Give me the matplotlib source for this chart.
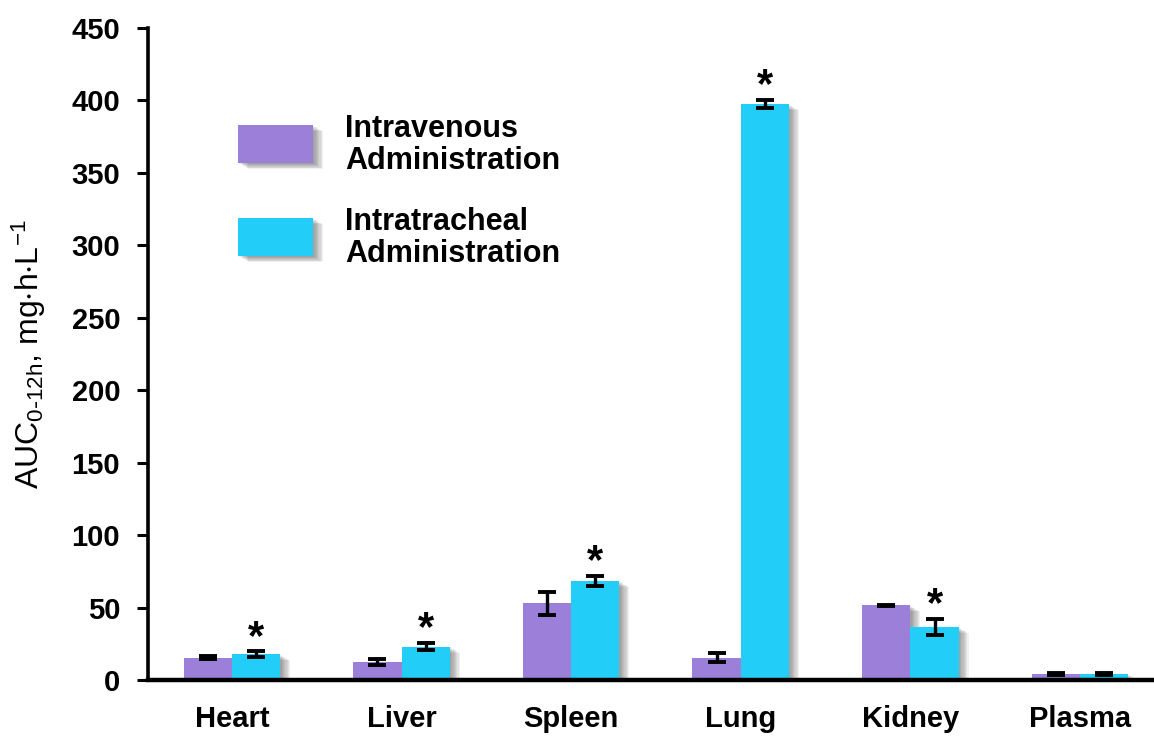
import matplotlib
matplotlib.use("Agg")
import matplotlib.pyplot as plt
import matplotlib.patheffects as pe
from matplotlib.patches import Rectangle
import numpy as np

plt.rcParams['font.family'] = ['Liberation Sans', 'DejaVu Sans']
plt.rcParams['mathtext.fontset'] = 'custom'
plt.rcParams['mathtext.rm'] = 'Liberation Sans Narrow'
plt.rcParams['mathtext.it'] = 'Liberation Sans Narrow'
plt.rcParams['mathtext.default'] = 'regular'

categories = ["Heart", "Liver", "Spleen", "Lung", "Kidney", "Plasma"]
series_names = ["Intravenous\nAdministration", "Intratracheal\nAdministration"]
iv_values = [15.4, 12.6, 53, 15.4, 51.5, 4]
iv_errors = [1.0, 2.0, 8.0, 3.0, 0.6, 0.5]
it_values = [17.7, 23, 68.5, 397.5, 36.7, 4]
it_errors = [2.0, 2.5, 3.5, 3.0, 5.5, 0.5]
significant = [True, True, True, True, True, False]
yticks = [0, 50, 100, 150, 200, 250, 300, 350, 400, 450]

c_iv = "#9b7fd9"
c_it = "#22cdf8"

fig = plt.figure(figsize=(11.54, 7.36), dpi=100)
ax = fig.add_axes([148/1154, 56/736, 1006/1154, 652/736])

x = np.arange(len(categories))
w = 0.285


def soft_shadow(n=8, step=0.9, alpha=0.08):
    effs = []
    for i in range(n, 0, -1):
        effs.append(pe.SimplePatchShadow(offset=(i * step, -i * step * 0.6),
                                         shadow_rgbFace='#404040', alpha=alpha))
    effs.append(pe.Normal())
    return effs


b1 = ax.bar(x - w/2, iv_values, w, color=c_iv, zorder=2)
b2 = ax.bar(x + w/2, it_values, w, color=c_it, zorder=2)
for b in list(b1) + list(b2):
    b.set_path_effects(soft_shadow())

ekw = dict(fmt='none', ecolor='black', elinewidth=2.4, capsize=6.5, capthick=2.8, zorder=3)
ax.errorbar(x - w/2, iv_values, yerr=iv_errors, **ekw)
ax.errorbar(x + w/2, it_values, yerr=it_errors, **ekw)

for xi, v, e, s in zip(x, it_values, it_errors, significant):
    if s:
        ax.annotate("*", (xi + w/2, v + e), xytext=(0, 2), textcoords='offset points',
                    ha='center', va='baseline', fontsize=30, fontweight='bold')

ax.set_xlim(-0.495, -0.495 + 1006/169.6)
ax.set_ylim(0, 450)
ax.set_yticks(yticks)
ax.set_yticklabels([str(t) for t in yticks], fontsize=21, fontweight='bold')
ax.set_xticks(x)
ax.set_xticklabels(categories, fontsize=21, fontweight='bold')
ax.tick_params(axis='x', length=0, pad=18)
ax.tick_params(axis='y', length=8, width=2.2, pad=12, direction='out')
for sp in ['top', 'right']:
    ax.spines[sp].set_visible(False)
ax.spines['left'].set_linewidth(2.6)
ax.spines['bottom'].set_linewidth(3.2)
ax.set_ylabel(r"$AUC_{0\text{-}12h}$, $mg{\cdot}h{\cdot}L^{-1}$", fontsize=23)
ax.yaxis.set_label_coords(-100/1006, 0.5)

# legend drawn manually with shadowed patches
leg_y = [144, 237]
for (yc, col, name) in zip(leg_y, [c_iv, c_it], series_names):
    r = Rectangle((238/1154, 1 - (yc + 19)/736), 75/1154, 38/736, transform=fig.transFigure,
                  facecolor=col, edgecolor='none', zorder=5)
    r.set_path_effects(soft_shadow())
    fig.add_artist(r)
    fig.text(345/1154, 1 - (yc + 1)/736, name, fontsize=22, fontweight='bold',
             va='center', ha='left', linespacing=1.12)

fig.savefig("out.png", dpi=100)
